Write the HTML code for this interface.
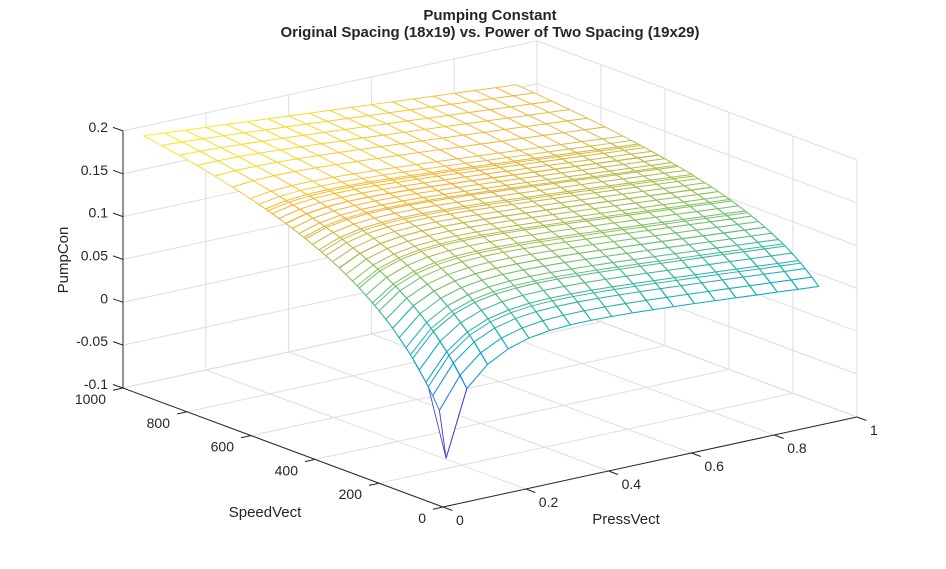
<!DOCTYPE html>
<html><head><meta charset="utf-8"><style>
body{margin:0;background:#fff;}
svg{display:block;font-family:"Liberation Sans",sans-serif;}
</style></head><body>
<svg id="s" width="946" height="569" viewBox="0 0 946 569" xmlns="http://www.w3.org/2000/svg">
<text x="490" y="20" text-anchor="middle" font-size="15" font-weight="bold" fill="#262626">Pumping Constant</text>
<text x="490" y="37" text-anchor="middle" font-size="15" font-weight="bold" fill="#262626">Original Spacing (18x19) vs. Power of Two Spacing (19x29)</text>
<text transform="translate(68,260) rotate(-90)" text-anchor="middle" font-size="15" fill="#262626">PumpCon</text>
<text x="265" y="517" text-anchor="middle" font-size="15" fill="#262626">SpeedVect</text>
<text x="626" y="524" text-anchor="middle" font-size="15" fill="#262626">PressVect</text>
<g id="g"></g>
</svg>
<script>
var NS="http://www.w3.org/2000/svg",G=document.getElementById('g');
function P(p,s,z){return [443+414*p-320*s,507-90*p-119*s-857*(z+0.1)];}
function el(t,a,txt){var e=document.createElementNS(NS,t);for(var k in a)e.setAttribute(k,a[k]);if(txt!==undefined)e.textContent=txt;G.appendChild(e);return e;}
function ln(a,b,c,w){el('line',{x1:a[0].toFixed(1),y1:a[1].toFixed(1),x2:b[0].toFixed(1),y2:b[1].toFixed(1),stroke:c,'stroke-width':w||1});}
var gc="#dedede";
for(var i=0;i<=6;i++){var z=-0.1+0.05*i;ln(P(0,1,z),P(1,1,z),gc);ln(P(1,1,z),P(1,0,z),gc);}
for(var i=0;i<=5;i++){var p=0.2*i;ln(P(p,0,-0.1),P(p,1,-0.1),gc);ln(P(p,1,-0.1),P(p,1,0.2),gc);}
for(var i=0;i<=5;i++){var s=0.2*i;ln(P(0,s,-0.1),P(1,s,-0.1),gc);ln(P(1,s,-0.1),P(1,s,0.2),gc);}
var ac="#262626";
ln(P(0,1,-0.1),P(0,1,0.2),ac);ln(P(0,0,-0.1),P(0,1,-0.1),ac);ln(P(0,0,-0.1),P(1,0,-0.1),ac);
var zl=["-0.1","-0.05","0","0.05","0.1","0.15","0.2"];
for(var i=0;i<=6;i++){var a=P(0,1,-0.1+0.05*i);ln(a,[a[0]-10,a[1]-3.5],ac);el('text',{x:108,y:a[1]+1,'text-anchor':'end','font-size':14,fill:ac},zl[i]);}
var sl=["0","200","400","600","800","1000"];
for(var i=0;i<=5;i++){var a=P(0,0.2*i,-0.1);ln(a,[a[0]-10,a[1]+2.2],ac);el('text',{x:a[0]-17,y:a[1]+16,'text-anchor':'end','font-size':14,fill:ac},sl[i]);}
var pl=["0","0.2","0.4","0.6","0.8","1"];
for(var i=0;i<=5;i++){var a=P(0.2*i,0,-0.1);ln(a,[a[0]+9.4,a[1]+3.5],ac);el('text',{x:a[0]+13,y:a[1]+18,'text-anchor':'start','font-size':14,fill:ac},pl[i]);}
var c=0.3,s0=0.055,zmin=-0.056,zmax=0.19;
function h(s){return (1/(s+c)-1/(1+c))/(1/(s0+c)-1/(1+c));}
function Z(p,s){if(p<0.051&&s<0.056)return -0.056;var zb=0.189-0.035*(p-0.05)/0.9;var D=0.104+0.104*Math.exp(-(p-0.05)/0.1);return zb-D*h(s);}
var st=[[0,[55,35,150]],[0.14,[60,60,220]],[0.29,[25,135,228]],[0.43,[6,170,205]],[0.57,[50,185,160]],[0.71,[140,195,90]],[0.86,[248,180,55]],[1,[249,240,20]]];
function col(z){var t=(z-zmin)/(zmax-zmin);t=Math.max(0,Math.min(1,t));for(var i=1;i<st.length;i++){if(t<=st[i][0]){var a=st[i-1],b=st[i],f=(t-a[0])/(b[0]-a[0]);return "rgb("+[0,1,2].map(function(k){return Math.round(a[1][k]+(b[1][k]-a[1][k])*f)}).join(",")+")";}}return "rgb(249,240,20)";}
function mesh(nr,nc,smax,fill){
 var quads=[];
 for(var r=0;r<nr-1;r++)for(var q=0;q<nc-1;q++){
  var pts=[[q,r],[q+1,r],[q+1,r+1],[q,r+1]].map(function(v){var p=0.05+0.9*v[0]/(nc-1),s=s0+(smax-s0)*v[1]/(nr-1);return [p,s,Z(p,s)];});
  var d=pts.reduce(function(a,v){return a+v[0]+v[1];},0);
  quads.push([d,pts]);
 }
 quads.sort(function(a,b){return b[0]-a[0];});
 quads.forEach(function(Q){var pts=Q[1];
  if(fill){var pp=pts.map(function(v){var a=P(v[0],v[1],v[2]);return a[0].toFixed(1)+","+a[1].toFixed(1);}).join(" ");el('polygon',{points:pp,fill:'#fff',stroke:'none'});}
  for(var k=0;k<4;k++){var a=pts[k],b=pts[(k+1)%4];ln(P(a[0],a[1],a[2]),P(b[0],b[1],b[2]),col((a[2]+b[2])/2),0.9);}
 });
}
mesh(18,19,1.0,true);
mesh(29,19,0.64,false);
</script>
</body></html>
